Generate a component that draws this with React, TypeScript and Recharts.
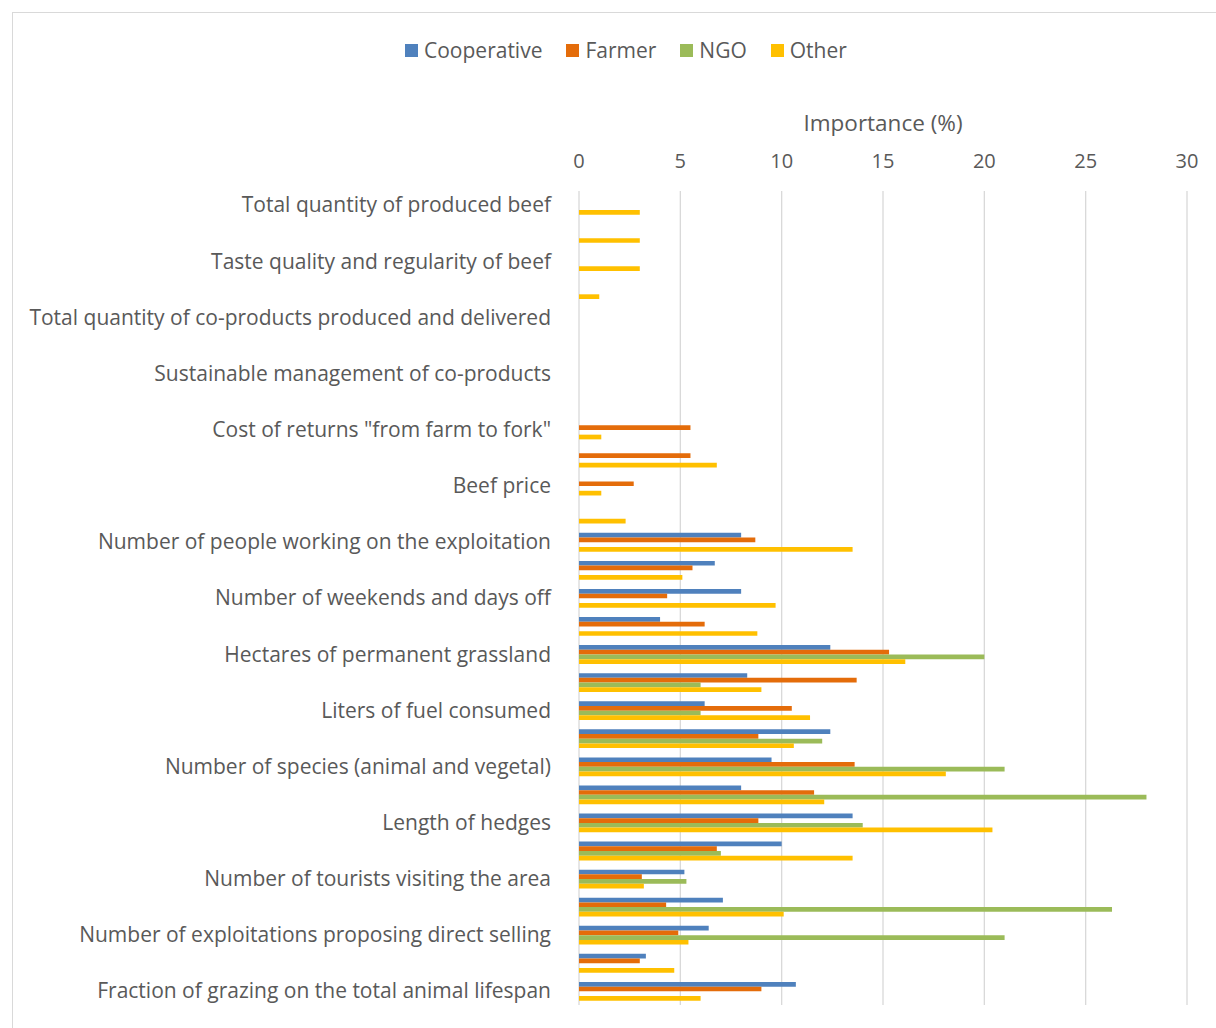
import React from 'react';
import { BarChart, Bar, XAxis, YAxis, CartesianGrid, Legend } from 'recharts';

// Indicators, listed top to bottom; only every second one gets a tick label.
const indicators = [
  'Total quantity of produced beef',
  'Carcass weight and conformation',
  'Taste quality and regularity of beef',
  'Sanitary quality of beef',
  'Total quantity of co-products produced and delivered',
  'Valorization of co-products',
  'Sustainable management of co-products',
  'Number of intermediaries in the chain',
  'Cost of returns "from farm to fork"',
  'Farmer income',
  'Beef price',
  'Production costs',
  'Number of people working on the exploitation',
  'Working time per worker',
  'Number of weekends and days off',
  'Physical hardness of work',
  'Hectares of permanent grassland',
  'Quantity of concentrate feed purchased',
  'Liters of fuel consumed',
  'Greenhouse gas emissions',
  'Number of species (animal and vegetal)',
  'Use of pesticides and fertilizers',
  'Length of hedges',
  'Quality of water and soils',
  'Number of tourists visiting the area',
  'Landscape quality',
  'Number of exploitations proposing direct selling',
  'Animal welfare',
  'Fraction of grazing on the total animal lifespan',
];

// Importance (%) given by each stakeholder group
const cooperative = [0, 0, 0, 0, 0, 0, 0, 0, 0, 0, 0, 0, 8.0, 6.7, 8.0, 4.0, 12.4, 8.3, 6.2, 12.4, 9.5, 8.0, 13.5, 10.0, 5.2, 7.1, 6.4, 3.3, 10.7];
const farmer = [0, 0, 0, 0, 0, 0, 0, 0, 5.5, 5.5, 2.7, 0, 8.7, 5.6, 4.35, 6.2, 15.3, 13.7, 10.5, 8.85, 13.6, 11.6, 8.85, 6.8, 3.1, 4.3, 4.9, 3.0, 9.0];
const ngo = [0, 0, 0, 0, 0, 0, 0, 0, 0, 0, 0, 0, 0, 0, 0, 0, 20.0, 6.0, 6.0, 12.0, 21.0, 28.0, 14.0, 7.0, 5.3, 26.3, 21.0, 0, 0];
const other = [3.0, 3.0, 3.0, 1.0, 0, 0, 0, 0, 1.1, 6.8, 1.1, 2.3, 13.5, 5.1, 9.7, 8.8, 16.1, 9.0, 11.4, 10.6, 18.1, 12.1, 20.4, 13.5, 3.2, 10.1, 5.4, 4.7, 6.0];

const xTicks = [0, 5, 10, 15, 20, 25, 30];

const series = [
  { key: 'Cooperative', values: cooperative, color: '#4F81BD' },
  { key: 'Farmer', values: farmer, color: '#E46C0A' },
  { key: 'NGO', values: ngo, color: '#9BBB59' },
  { key: 'Other', values: other, color: '#FFC000' },
];

const rows = indicators.map((name, i) => {
  const row: Record<string, string | number> = { name };
  series.forEach((s) => {
    row[s.key] = s.values[i];
  });
  return row;
});

const FONT = '"Open Sans", sans-serif';
const TEXT = '#595959';

const LegendRow = (props: any) => {
  const payload = props.payload || [];
  return (
    <div
      style={{
        height: 28,
        display: 'flex',
        alignItems: 'center',
        paddingLeft: 405,
        fontFamily: FONT,
        fontSize: 21,
        color: TEXT,
      }}
    >
      {payload.map((p: any) => (
        <div key={p.value} style={{ display: 'flex', alignItems: 'center', marginRight: 24 }}>
          <span style={{ width: 13, height: 13, background: p.color, display: 'inline-block', marginRight: 6 }} />
          <span>{p.value}</span>
        </div>
      ))}
    </div>
  );
};

export default function App() {
  return (
    <div style={{ position: 'absolute', left: 0, top: 0, width: 1216, height: 1028, background: '#fff', overflow: 'hidden' }}>
      <div
        style={{
          position: 'absolute',
          left: 12,
          top: 12,
          width: 1220,
          height: 1030,
          borderLeft: '1px solid #d9d9d9',
          borderTop: '1px solid #d9d9d9',
        }}
      />
      <div style={{ position: 'absolute', left: 0, top: 0 }}>
        <BarChart
          width={1216}
          height={1028}
          data={rows}
          layout="vertical"
          margin={{ top: 36, right: 29, bottom: 23, left: 0 }}
          barSize={4.7}
          barGap={0}
        >
          <CartesianGrid horizontal={false} stroke="#d9d9d9" strokeWidth={1.3} />
          <Legend verticalAlign="top" content={<LegendRow />} wrapperStyle={{ left: 0, width: 1216 }} />
          <XAxis
            type="number"
            orientation="top"
            domain={[0, 30]}
            ticks={xTicks}
            interval={0}
            axisLine={false}
            tickLine={false}
            tickMargin={17}
            height={127}
            tick={{ fill: TEXT, fontSize: 20, fontFamily: FONT }}
            label={{ value: 'Importance (%)', position: 'insideTop', offset: 51, fill: TEXT, fontSize: 22.5, fontFamily: FONT }}
          />
          <YAxis
            type="category"
            dataKey="name"
            width={579}
            interval={1}
            axisLine={false}
            tickLine={false}
            tickMargin={22}
            tick={{ fill: TEXT, fontSize: 21, fontFamily: FONT }}
          />
          {series.map((s) => (
            <Bar key={s.key} dataKey={s.key} fill={s.color} isAnimationActive={false} />
          ))}
        </BarChart>
      </div>
    </div>
  );
}
